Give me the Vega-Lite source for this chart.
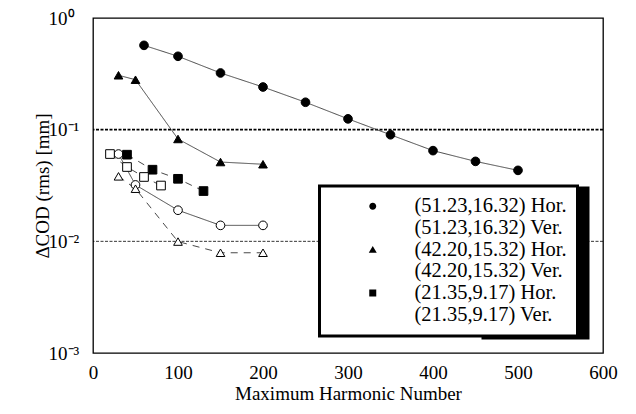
{
  "$schema": "https://vega.github.io/schema/vega-lite/v6.json",
  "width": 510,
  "height": 335,
  "autosize": "none",
  "padding": {"left": 93, "top": 18, "right": 33, "bottom": 61},
  "config": {
    "view": {"stroke": "black", "strokeWidth": 1.3},
    "font": "Liberation Serif, Times New Roman, serif",
    "axis": {
      "labelFont": "Liberation Serif, Times New Roman, serif", "titleFont": "Liberation Serif, Times New Roman, serif",
      "labelFontSize": 19, "titleFontSize": 19, "titleFontWeight": "normal",
      "labelColor": "black", "titleColor": "black",
      "domain": false, "grid": false, "tickColor": "black", "tickWidth": 1
    },
    "legend": {"strokeWidth": 3}
  },
  "datasets": {
    "pts": [
      {"s": "(51.23,16.32) Hor.", "x": 60, "y": 0.569},
      {"s": "(51.23,16.32) Hor.", "x": 100, "y": 0.454},
      {"s": "(51.23,16.32) Hor.", "x": 150, "y": 0.322},
      {"s": "(51.23,16.32) Hor.", "x": 200, "y": 0.241},
      {"s": "(51.23,16.32) Hor.", "x": 250, "y": 0.176},
      {"s": "(51.23,16.32) Hor.", "x": 300, "y": 0.125},
      {"s": "(51.23,16.32) Hor.", "x": 350, "y": 0.090},
      {"s": "(51.23,16.32) Hor.", "x": 400, "y": 0.0649},
      {"s": "(51.23,16.32) Hor.", "x": 450, "y": 0.052},
      {"s": "(51.23,16.32) Hor.", "x": 500, "y": 0.0432},
      {"s": "(51.23,16.32) Ver.", "x": 30, "y": 0.0605},
      {"s": "(51.23,16.32) Ver.", "x": 50, "y": 0.032},
      {"s": "(51.23,16.32) Ver.", "x": 100, "y": 0.019},
      {"s": "(51.23,16.32) Ver.", "x": 150, "y": 0.0139},
      {"s": "(51.23,16.32) Ver.", "x": 200, "y": 0.0139},
      {"s": "(42.20,15.32) Hor.", "x": 30, "y": 0.307},
      {"s": "(42.20,15.32) Hor.", "x": 50, "y": 0.28},
      {"s": "(42.20,15.32) Hor.", "x": 100, "y": 0.0825},
      {"s": "(42.20,15.32) Hor.", "x": 150, "y": 0.0513},
      {"s": "(42.20,15.32) Hor.", "x": 200, "y": 0.049},
      {"s": "(42.20,15.32) Ver.", "x": 30, "y": 0.0382},
      {"s": "(42.20,15.32) Ver.", "x": 50, "y": 0.0296},
      {"s": "(42.20,15.32) Ver.", "x": 100, "y": 0.00995},
      {"s": "(42.20,15.32) Ver.", "x": 150, "y": 0.0079},
      {"s": "(42.20,15.32) Ver.", "x": 200, "y": 0.0079},
      {"s": "(21.35,9.17) Hor.", "x": 40, "y": 0.0597},
      {"s": "(21.35,9.17) Hor.", "x": 70, "y": 0.0438},
      {"s": "(21.35,9.17) Hor.", "x": 100, "y": 0.0363},
      {"s": "(21.35,9.17) Hor.", "x": 130, "y": 0.0282},
      {"s": "(21.35,9.17) Ver.", "x": 20, "y": 0.0605},
      {"s": "(21.35,9.17) Ver.", "x": 40, "y": 0.0463},
      {"s": "(21.35,9.17) Ver.", "x": 60, "y": 0.0377},
      {"s": "(21.35,9.17) Ver.", "x": 80, "y": 0.0316}
    ],
    "keys": [
      {"k": "(51.23,16.32) Hor."},
      {"k": "(51.23,16.32) Ver."},
      {"k": "(42.20,15.32) Hor."},
      {"k": "(42.20,15.32) Ver."},
      {"k": "(21.35,9.17) Hor."},
      {"k": "(21.35,9.17) Ver."}
    ]
  },
  "layer": [
    {
      "data": {"values": [{"ref": 0.1}]},
      "mark": {"type": "rule", "color": "black", "strokeWidth": 1.8, "strokeDash": [3, 1.5]},
      "encoding": {
        "y": {"field": "ref", "type": "quantitative", "scale": {"type": "log", "domain": [0.001, 1], "nice": false}, "axis": null}
      }
    },
    {
      "data": {"values": [{"ref": 0.01}]},
      "mark": {"type": "rule", "color": "black", "strokeWidth": 0.8, "strokeDash": [3, 1.5]},
      "encoding": {
        "y": {"field": "ref", "type": "quantitative", "scale": {"type": "log", "domain": [0.001, 1], "nice": false}, "axis": null}
      }
    },
    {
      "data": {"name": "pts"},
      "mark": {"type": "line", "color": "#333333", "strokeWidth": 0.9},
      "encoding": {
        "x": {
          "field": "x", "type": "quantitative",
          "scale": {"domain": [0, 600], "nice": false},
          "axis": {
            "orient": "bottom",
            "values": [0,20,40,60,80,100,120,140,160,180,200,220,240,260,280,300,320,340,360,380,400,420,440,460,480,500,520,540,560,580,600],
            "labelExpr": "datum.value % 100 === 0 ? datum.label : ''",
            "labelOverlap": false, "labelFlush": false,
            "title": "Maximum Harmonic Number",
            "tickSize": 0, "labelPadding": 10, "titlePadding": 2,
            "encode": {"ticks": {"update": {"y2": {"signal": "datum.value % 100 === 0 ? -12 : -6"}}}}
          }
        },
        "y": {
          "field": "y", "type": "quantitative",
          "scale": {"type": "log", "domain": [0.001, 1], "nice": false},
          "axis": {
            "orient": "left",
            "values": [0.001,0.002,0.003,0.004,0.005,0.006,0.007,0.008,0.009,0.01,0.02,0.03,0.04,0.05,0.06,0.07,0.08,0.09,0.1,0.2,0.3,0.4,0.5,0.6,0.7,0.8,0.9,1],
            "labelExpr": "abs(datum.value - 1) < 1e-9 ? '10⁰' : abs(datum.value - 0.1) < 1e-9 ? '10⁻¹' : abs(datum.value - 0.01) < 1e-9 ? '10⁻²' : abs(datum.value - 0.001) < 1e-9 ? '10⁻³' : ''",
            "labelOverlap": false, "labelFlush": false, "labelAlign": "left",
            "title": "ΔCOD (rms) [mm]",
            "tickSize": 0, "labelPadding": 45, "titlePadding": -4,
            "encode": {"ticks": {"update": {"x2": {"signal": "abs(log(datum.value)/LN10 - round(log(datum.value)/LN10)) < 0.001 ? 12 : 6"}}}}
          }
        },
        "detail": {"field": "s", "type": "nominal"},
        "strokeDash": {
          "field": "s", "type": "nominal",
          "scale": {"range": [[7,6],[7,6],[1,0],[7,6],[1,0],[1,0]]},
          "legend": null
        }
      }
    },
    {
      "data": {"name": "pts"},
      "mark": {"type": "point", "filled": true, "stroke": "black", "strokeWidth": 1, "opacity": 1, "size": 75},
      "encoding": {
        "x": {
          "field": "x", "type": "quantitative",
          "scale": {"domain": [0, 600], "nice": false},
          "axis": {
            "orient": "top",
            "values": [0,20,40,60,80,100,120,140,160,180,200,220,240,260,280,300,320,340,360,380,400,420,440,460,480,500,520,540,560,580,600],
            "labels": false, "title": null, "tickSize": 0,
            "encode": {"ticks": {"update": {"y2": {"signal": "datum.value % 100 === 0 ? 12 : 6"}}}}
          }
        },
        "y": {
          "field": "y", "type": "quantitative",
          "scale": {"type": "log", "domain": [0.001, 1], "nice": false},
          "axis": {
            "orient": "right",
            "values": [0.001,0.002,0.003,0.004,0.005,0.006,0.007,0.008,0.009,0.01,0.02,0.03,0.04,0.05,0.06,0.07,0.08,0.09,0.1,0.2,0.3,0.4,0.5,0.6,0.7,0.8,0.9,1],
            "labels": false, "title": null, "tickSize": 0,
            "encode": {"ticks": {"update": {"x2": {"signal": "abs(log(datum.value)/LN10 - round(log(datum.value)/LN10)) < 0.001 ? -12 : -6"}}}}
          }
        },
        "fill": {
          "field": "s", "type": "nominal",
          "scale": {"range": ["black","white","black","white","black","white"]},
          "legend": null
        },
        "shape": {
          "field": "s", "type": "nominal",
          "scale": {"range": ["square","square","triangle-up","triangle-up","circle","circle"]},
          "legend": null
        }
      }
    },
    {
      "data": {"name": "keys"},
      "mark": {"type": "point", "filled": true, "stroke": "black", "strokeWidth": 1, "opacity": 0},
      "encoding": {
        "shape": {
          "field": "k", "type": "nominal",
          "scale": {
            "domain": ["(51.23,16.32) Hor.","(51.23,16.32) Ver.","(42.20,15.32) Hor.","(42.20,15.32) Ver.","(21.35,9.17) Hor.","(21.35,9.17) Ver."],
            "range": [
              "M-7,0L7,0M-0.7,0A0.7,0.7,0,1,0,0.7,0A0.7,0.7,0,1,0,-0.7,0Z",
              "M-7,0L-0.6,0M0.6,0L7,0M-0.6,0A0.6,0.6,0,1,0,0.6,0A0.6,0.6,0,1,0,-0.6,0Z",
              "M-7,0L7,0M-0.8,0.6L0.8,0.6L0,-0.75Z",
              "M-6.8,0L-5.6,0M-4.4,0L-3.2,0M3.2,0L4.4,0M5.6,0L6.8,0M-0.7,0.55L0.7,0.55L0,-0.65Z",
              "M-6.8,0L-5.6,0M-4.4,0L-3.2,0M3.2,0L4.4,0M5.6,0L6.8,0M-0.7,-0.7L0.7,-0.7L0.7,0.7L-0.7,0.7Z",
              "M-6.8,0L-5.6,0M-4.4,0L-3.2,0M3.2,0L4.4,0M5.6,0L6.8,0M-0.65,-0.65L0.65,-0.65L0.65,0.65L-0.65,0.65ZM-0.65,0L0.65,0"
            ]
          },
          "legend": {
            "orient": "none", "legendX": 226.5, "legendY": 168, "title": null, "zindex": 2,
            "fillColor": "white", "strokeColor": "black", "padding": 10,
            "labelFont": "Liberation Serif, Times New Roman, serif", "labelFontSize": 20.5, "labelColor": "black", "labelLimit": 400,
            "symbolSize": 100, "symbolOffset": 33, "labelOffset": 31.5, "rowPadding": 0.7,
            "symbolOpacity": 1, "symbolStrokeColor": "black", "symbolStrokeWidth": 1
          }
        },
        "fill": {
          "field": "k", "type": "nominal",
          "scale": {
            "domain": ["(51.23,16.32) Hor.","(51.23,16.32) Ver.","(42.20,15.32) Hor.","(42.20,15.32) Ver.","(21.35,9.17) Hor.","(21.35,9.17) Ver."],
            "range": ["black","white","black","white","black","white"]
          },
          "legend": {
            "orient": "none", "legendX": 226.5, "legendY": 168, "title": null, "zindex": 2,
            "fillColor": "white", "strokeColor": "black", "padding": 10,
            "labelFont": "Liberation Serif, Times New Roman, serif", "labelFontSize": 20.5, "labelColor": "black", "labelLimit": 400,
            "symbolSize": 100, "symbolOffset": 33, "labelOffset": 31.5, "rowPadding": 0.7,
            "symbolOpacity": 1, "symbolStrokeColor": "black", "symbolStrokeWidth": 1
          }
        }
      }
    },
    {
      "data": {"name": "keys"},
      "mark": {"type": "point", "opacity": 0},
      "encoding": {
        "color": {
          "field": "k", "type": "nominal",
          "scale": {"range": ["black","black","black","black","black","black"]},
          "legend": {
            "orient": "bottom-right", "offset": 15, "title": null, "zindex": 1,
            "fillColor": "black", "strokeColor": "black", "padding": 10,
            "labelFont": "Liberation Serif, Times New Roman, serif", "labelFontSize": 20.5, "labelColor": "black", "labelLimit": 400,
            "labelExpr": "'                              '",
            "symbolSize": 100, "symbolOffset": 33, "labelOffset": 31.5, "rowPadding": 0.7
          }
        }
      }
    }
  ],
  "resolve": {
    "axis": {"x": "independent", "y": "independent"},
    "scale": {"shape": "independent", "fill": "independent"}
  }
}
